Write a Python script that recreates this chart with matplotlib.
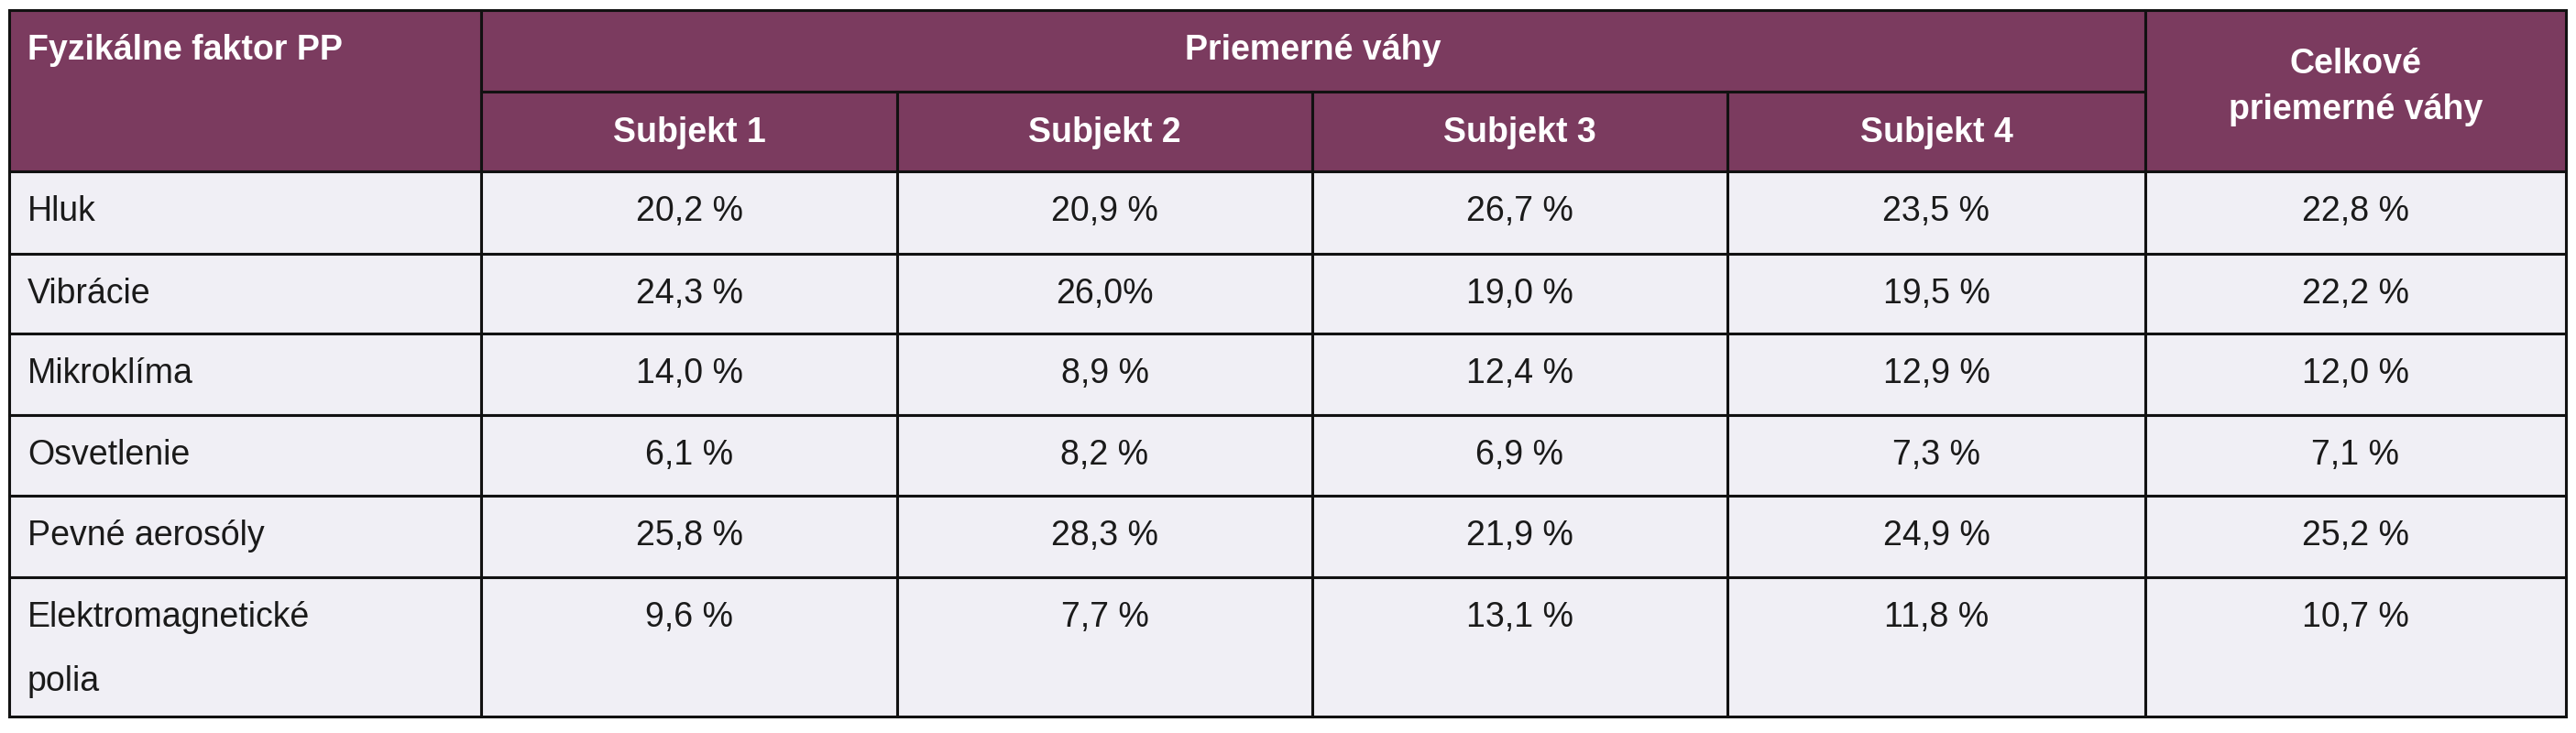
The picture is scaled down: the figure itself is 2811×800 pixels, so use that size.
import matplotlib.pyplot as plt
from matplotlib.patches import Rectangle
from matplotlib import font_manager

factors = ['Hluk', 'Vibrácie', 'Mikroklíma', 'Osvetlenie', 'Pevné aerosóly', 'Elektromagnetické\npolia']
subjects = ['Subjekt 1', 'Subjekt 2', 'Subjekt 3', 'Subjekt 4']
subj1 = ['20,2 %', '24,3 %', '14,0 %', '6,1 %', '25,8 %', '9,6 %']
subj2 = ['20,9 %', '26,0%', '8,9 %', '8,2 %', '28,3 %', '7,7 %']
subj3 = ['26,7 %', '19,0 %', '12,4 %', '6,9 %', '21,9 %', '13,1 %']
subj4 = ['23,5 %', '19,5 %', '12,9 %', '7,3 %', '24,9 %', '11,8 %']
overall = ['22,8 %', '22,2 %', '12,0 %', '7,1 %', '25,2 %', '10,7 %']

names = {f.name for f in font_manager.fontManager.ttflist}
font = 'Liberation Sans Narrow' if 'Liberation Sans Narrow' in names else 'Liberation Sans'

W, H = 2811, 800
purple = '#7b3b5f'
body = '#f0eff5'
xs = [10, 525, 979, 1432, 1885, 2341, 2800]
head_y = [11, 100, 187]
row_y = [187, 277, 364, 453, 541, 630, 782]

fig = plt.figure(figsize=(W / 100, H / 100), dpi=100)
ax = fig.add_axes([0, 0, 1, 1])
ax.set_xlim(0, W)
ax.set_ylim(H, 0)
ax.axis('off')

lw = 2.2
def cell(x0, y0, x1, y1, color):
    ax.add_patch(Rectangle((x0, y0), x1 - x0, y1 - y0, facecolor=color,
                           edgecolor='#111111', linewidth=lw))

# header
cell(xs[0], head_y[0], xs[1], head_y[2], purple)
cell(xs[1], head_y[0], xs[5], head_y[1], purple)
for i in range(4):
    cell(xs[1 + i], head_y[1], xs[2 + i], head_y[2], purple)
cell(xs[5], head_y[0], xs[6], head_y[2], purple)

hkw = dict(color='white', fontsize=27, fontweight='bold', family=font)
ax.text(xs[0] + 20, 55, 'Fyzikálne faktor PP', ha='left', va='center', **hkw)
ax.text((xs[1] + xs[5]) / 2, 55, 'Priemerné váhy', ha='center', va='center', **hkw)
for i, s in enumerate(subjects):
    ax.text((xs[1 + i] + xs[2 + i]) / 2, 145, s, ha='center', va='center', **hkw)
ax.text((xs[5] + xs[6]) / 2, 95, 'Celkové\npriemerné váhy', ha='center', va='center',
        linespacing=1.5, **hkw)

# body
cols = [subj1, subj2, subj3, subj4, overall]
bkw = dict(color='#1a1a1a', fontsize=27, family=font)
for r, name in enumerate(factors):
    y0, y1 = row_y[r], row_y[r + 1]
    for c in range(6):
        cell(xs[c], y0, xs[c + 1], y1, body)
    yt = y0 + 44
    if '\n' in name:
        ax.text(xs[0] + 20, yt, name.split('\n')[0], ha='left', va='center', **bkw)
        ax.text(xs[0] + 20, yt + 70, name.split('\n')[1], ha='left', va='center', **bkw)
    else:
        ax.text(xs[0] + 20, yt, name, ha='left', va='center', **bkw)
    for c, vals in enumerate(cols):
        ax.text((xs[1 + c] + xs[2 + c]) / 2, yt, vals[r], ha='center', va='center', **bkw)

fig.savefig('out.png', dpi=100, facecolor='white')
